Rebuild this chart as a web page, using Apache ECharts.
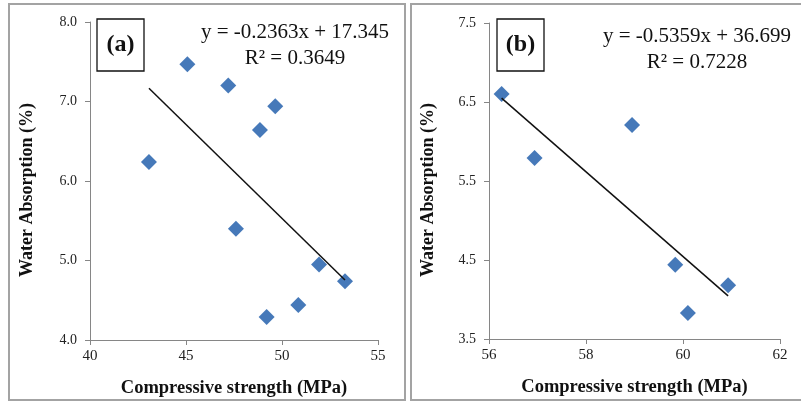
<!DOCTYPE html>
<html>
<head>
<meta charset="utf-8">
<script src="https://cdn.jsdelivr.net/npm/echarts@6/dist/echarts.min.js"></script>
<style>
  html, body { margin: 0; padding: 0; background: #fff; }
  #chart { width: 801px; height: 402px; }
</style>
</head>
<body>
<div id="chart"></div>
<script>
// panel (a)
var strengthA = [43.07, 45.07, 47.2, 49.65, 48.85, 47.6, 51.93, 53.28, 50.85, 49.2];
var absorptionA = [6.24, 7.47, 7.2, 6.94, 6.64, 5.40, 4.95, 4.74, 4.44, 4.29];
var fitA = [-0.2363, 17.345, 0.3649];   // slope, intercept, R2

// panel (b)
var strengthB = [56.26, 56.94, 58.95, 59.84, 60.93, 60.1];
var absorptionB = [6.6, 5.79, 6.21, 4.44, 4.18, 3.83];
var fitB = [-0.5359, 36.699, 0.7228];

var xTitle = 'Compressive strength (MPa)';
var yTitle = 'Water Absorption (%)';

var serif = '"Liberation Serif", "Times New Roman", serif';
var axisGray = '#868686';

function pairs(xs, ys) {
  return xs.map(function (x, i) { return [x, ys[i]]; });
}

function trend(xs, fit) {
  var lo = Math.min.apply(null, xs), hi = Math.max.apply(null, xs);
  return [[lo, fit[0] * lo + fit[1]], [hi, fit[0] * hi + fit[1]]];
}

function eqText(fit) {
  return 'y = ' + fit[0] + 'x + ' + fit[1];
}

function xAxisOf(idx, min, max, step) {
  return {
    gridIndex: idx, type: 'value', min: min, max: max, interval: step,
    name: xTitle, nameLocation: 'middle', nameGap: 39,
    nameTextStyle: { fontFamily: serif, fontWeight: 'bold', fontSize: 18.5, color: '#111' },
    axisLine: { lineStyle: { color: axisGray } },
    axisTick: { length: 5, lineStyle: { color: axisGray } },
    axisLabel: { fontFamily: serif, fontSize: 15, color: '#222', margin: 9 },
    splitLine: { show: false }
  };
}

function yAxisOf(idx, min, max, step) {
  return {
    gridIndex: idx, type: 'value', min: min, max: max, interval: step,
    axisLine: { show: true, lineStyle: { color: axisGray } },
    axisTick: { show: true, length: 5, lineStyle: { color: axisGray } },
    axisLabel: {
      fontFamily: serif, fontSize: 14, color: '#222', margin: 13,
      formatter: function (v) { return v.toFixed(1); }
    },
    splitLine: { show: false }
  };
}

function panelGraphics(x0, tagX, tag, fit, eqX, eqY, yTitleX) {
  return [
    { type: 'rect', shape: { x: x0, y: 4, width: 396, height: 396 },
      style: { fill: 'none', stroke: '#a3a3a3', lineWidth: 2 } },
    { type: 'rect', shape: { x: tagX, y: 19, width: 47, height: 52 },
      style: { fill: '#fff', stroke: '#111', lineWidth: 1.3 } },
    { type: 'text', x: tagX + 23.5, y: 45,
      style: { text: tag, font: 'bold 24px ' + serif, fill: '#111', align: 'center', verticalAlign: 'middle' } },
    { type: 'text', x: eqX, y: eqY,
      style: { text: eqText(fit), font: '21px ' + serif, fill: '#111', align: 'center', verticalAlign: 'middle' } },
    { type: 'text', x: eqX, y: eqY + 26,
      style: { text: 'R\u00b2 = ' + fit[2], font: '21px ' + serif, fill: '#111', align: 'center', verticalAlign: 'middle' } },
    { type: 'text', x: yTitleX, y: 190, rotation: Math.PI / 2,
      style: { text: yTitle, font: 'bold 18px ' + serif, fill: '#111', align: 'center', verticalAlign: 'middle' } }
  ];
}

var chart = echarts.init(document.getElementById('chart'), null, { renderer: 'canvas' });

var option = {
  backgroundColor: '#fff',
  animation: false,
  grid: [
    { left: 90, top: 22, width: 288, height: 318, outerBoundsMode: 'none', containLabel: false },
    { left: 489, top: 23, width: 291, height: 316, outerBoundsMode: 'none', containLabel: false }
  ],
  xAxis: [xAxisOf(0, 40, 55, 5), xAxisOf(1, 56, 62, 2)],
  yAxis: [yAxisOf(0, 4, 8, 1), yAxisOf(1, 3.5, 7.5, 1)],
  graphic: panelGraphics(9, 97, '(a)', fitA, 295, 32, 27)
    .concat(panelGraphics(411, 497, '(b)', fitB, 697, 36, 428)),
  series: [
    {
      type: 'line', xAxisIndex: 0, yAxisIndex: 0, data: trend(strengthA, fitA),
      symbol: 'none', lineStyle: { color: '#111', width: 1.5 }, z: 3
    },
    {
      type: 'scatter', xAxisIndex: 0, yAxisIndex: 0, data: pairs(strengthA, absorptionA),
      symbol: 'diamond', symbolSize: 16, itemStyle: { color: '#4679B9', opacity: 1 }, z: 2
    },
    {
      type: 'line', xAxisIndex: 1, yAxisIndex: 1, data: trend(strengthB, fitB),
      symbol: 'none', lineStyle: { color: '#111', width: 1.5 }, z: 3
    },
    {
      type: 'scatter', xAxisIndex: 1, yAxisIndex: 1, data: pairs(strengthB, absorptionB),
      symbol: 'diamond', symbolSize: 16, itemStyle: { color: '#4679B9', opacity: 1 }, z: 2
    }
  ]
};

chart.setOption(option);
</script>
</body>
</html>
